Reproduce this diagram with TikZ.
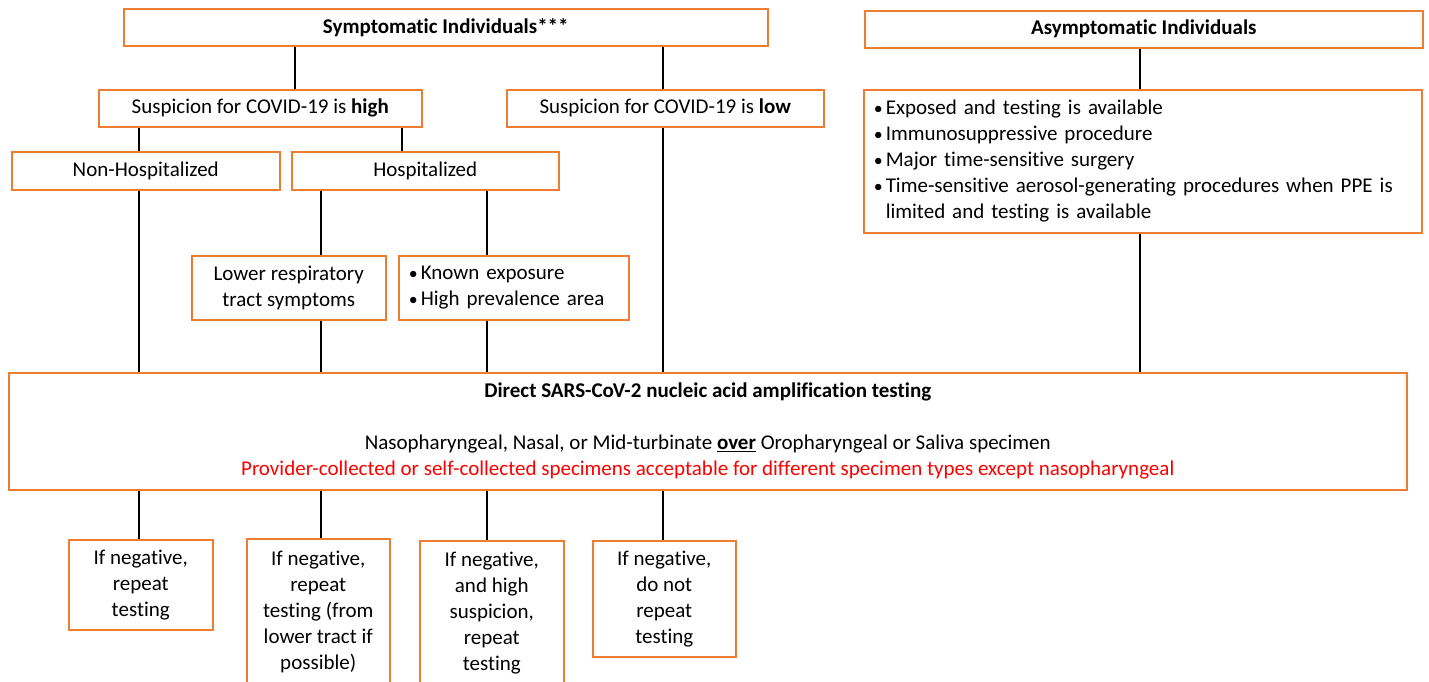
\documentclass[tikz,border=0pt]{standalone}
\usepackage{fontspec}
\setmainfont{Carlito}[Ligatures=NoCommon]
\definecolor{boxorange}{HTML}{ED7D31}
\definecolor{textred}{HTML}{FF0000}
\newcommand{\bul}{\makebox[11pt][r]{\scalebox{0.85}{\textbullet}\hspace{3pt}}}

\begin{document}
\begin{tikzpicture}[x=1pt, y=-1pt,
    box/.style={rectangle, draw=boxorange, line width=1.5pt, inner sep=0pt, anchor=north west, font=\fontsize{21}{26}\selectfont, align=center},
    listbox/.style={box, align=left, inner xsep=11pt},
    link/.style={black, line width=2pt},
  ]
  \clip (0,0) rectangle (1429,681);
  \fill[white] (0,0) rectangle (1429,681);

  % top row
  \node(symp) at (123,8) [box, minimum width=644, minimum height=37] {\textbf{Symptomatic Individuals***}};
  \node(asym) at (864,10) [box, minimum width=558, minimum height=37] {\textbf{Asymptomatic Individuals}};

  % suspicion
  \node(high) at (98,89) [box, minimum width=323, minimum height=37] {Suspicion for COVID-19 is \textbf{high}};
  \node(low) at (506,89) [box, minimum width=317, minimum height=37] {Suspicion for COVID-19 is \textbf{low}};
  \node(asymlist) at (863,89) [listbox, text width=536, minimum height=143] {\bul Exposed and testing is available\\
    \bul Immunosuppressive procedure\\
    \bul Major time-sensitive surgery\\
    \bul Time-sensitive aerosol-generating procedures when PPE is\\
    \hspace*{11pt}limited and testing is available};

  \node(nonhosp) at (11,151) [box, minimum width=268, minimum height=38] {Non-Hospitalized};
  \node(hosp) at (291,151) [box, minimum width=267, minimum height=38] {Hospitalized};

  \node(lowresp) at (191,255) [box, minimum width=194, minimum height=64] {Lower respiratory\\tract symptoms};
  \node(known) at (398,255) [listbox, text width=208, minimum height=64] {\bul Known exposure\\\bul High prevalence area};

  % testing
  \node(naat) at (8,372) [box, minimum width=1398, minimum height=117] {\textbf{Direct SARS-CoV-2 nucleic acid amplification testing}\\[26pt]
    Nasopharyngeal, Nasal, or Mid-turbinate \underline{\textbf{over}} Oropharyngeal or Saliva specimen\\
    \textcolor{textred}{Provider-collected or self-collected specimens acceptable for different specimen types except nasopharyngeal}};

  % results
  \node(neg1) at (68,539) [box, minimum width=144, minimum height=90] {If negative,\\repeat\\testing};
  \node(neg2) at (246,538) [box, minimum width=143, minimum height=146] {If negative,\\repeat\\testing (from\\lower tract if\\possible)};
  \node(neg3) at (419,540) [box, minimum width=144, minimum height=144] {If negative,\\and high\\suspicion,\\repeat\\testing};
  \node(neg4) at (592,540) [box, minimum width=143, minimum height=116] {If negative,\\do not\\repeat\\testing};

  % columns for the links
  \coordinate (colA) at (139,0);
  \coordinate (colB) at (321,0);
  \coordinate (colC) at (487,0);
  \coordinate (colD) at (663,0);
  \coordinate (colE) at (1140,0);
  \coordinate (colF) at (295,0);
  \coordinate (colG) at (402,0);

  \draw[link] (symp.south -| colF) -- (high.north -| colF);
  \draw[link] (symp.south -| colD) -- (low.north -| colD);
  \draw[link] (high.south -| colA) -- (nonhosp.north -| colA);
  \draw[link] (high.south -| colG) -- (hosp.north -| colG);
  \draw[link] (hosp.south -| colB) -- (lowresp.north -| colB);
  \draw[link] (hosp.south -| colC) -- (known.north -| colC);
  \draw[link] (asym.south -| colE) -- (asymlist.north -| colE);

  \draw[link] (nonhosp.south -| colA) -- (naat.north -| colA);
  \draw[link] (lowresp.south -| colB) -- (naat.north -| colB);
  \draw[link] (known.south -| colC) -- (naat.north -| colC);
  \draw[link] (low.south -| colD) -- (naat.north -| colD);
  \draw[link] (asymlist.south -| colE) -- (naat.north -| colE);

  \draw[link] (naat.south -| colA) -- (neg1.north -| colA);
  \draw[link] (naat.south -| colB) -- (neg2.north -| colB);
  \draw[link] (naat.south -| colC) -- (neg3.north -| colC);
  \draw[link] (naat.south -| colD) -- (neg4.north -| colD);
\end{tikzpicture}
\end{document}
